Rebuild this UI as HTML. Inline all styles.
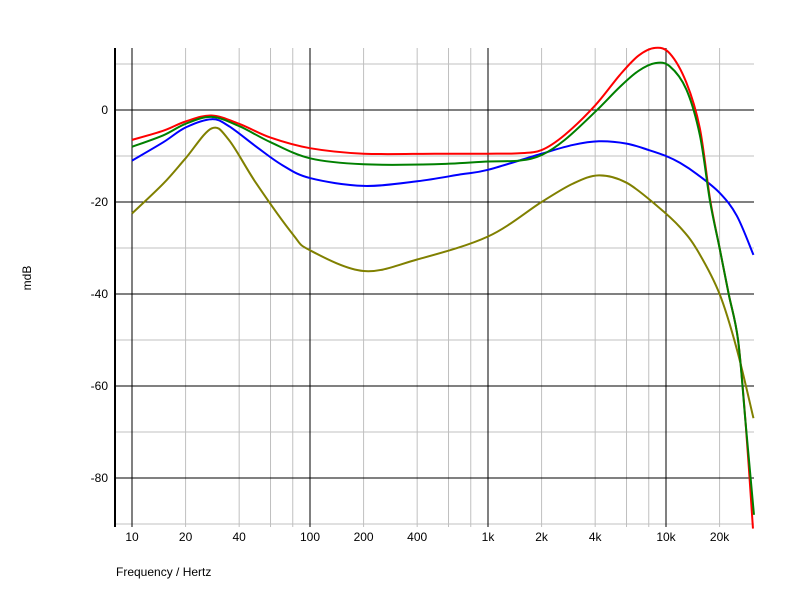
<!DOCTYPE html>
<html><head><meta charset="utf-8"><style>
body{margin:0;background:#fff;}
svg{display:block;font-family:"Liberation Sans",sans-serif;font-size:12px;}
</style></head><body>
<svg id="c" width="796" height="611"></svg>
<script>
const redF=[10,15,20,28,40,60,100,200,500,1000,1500,2000,2700,4000,5500,7000,8700,10500,13000,15500,17700,20000,22500,25400,28000,30800];
const redV=[-6.5,-4.5,-2.5,-1.2,-3,-6,-8.3,-9.5,-9.5,-9.5,-9.4,-8.7,-5.4,1,7.6,11.8,13.5,12.3,6,-4,-19.5,-30,-40,-50,-68,-91];
const greenF=[10,15,20,28,40,60,100,200,500,1000,1500,2000,2700,4000,5500,7000,8700,10500,13000,15500,17700,20000,22500,25400,28000,31200];
const greenV=[-8,-5.5,-3,-1.5,-3.5,-7,-10.5,-11.8,-11.8,-11.2,-11,-9.8,-6.5,-0.4,5,8.5,10.2,9.5,4.5,-5.5,-20,-30,-40,-50,-68,-88];
const blueF=[10,15,20,28,35,50,70,100,200,400,700,1000,2000,3000,4200,6000,8000,10000,12000,15000,20000,25000,31000];
const blueV=[-11,-7,-3.8,-2,-3.5,-8,-12,-14.8,-16.5,-15.5,-14,-13,-9.5,-7.6,-6.8,-7.3,-8.7,-10,-11.5,-14,-18,-23,-31.5];
const oliveF=[10,15,20,28,35,50,80,100,200,400,1000,2000,3000,4200,6000,9000,12000,15000,20000,25000,31000];
const oliveV=[-22.5,-16,-10.5,-4,-6.5,-16,-27,-30.5,-35,-32.5,-27.5,-20,-16,-14.2,-15.8,-21,-25.5,-30.5,-40,-52,-67];
const xTicks=[10,20,40,100,200,400,1000,2000,4000,10000,20000];
const xTickLabels=["10","20","40","100","200","400","1k","2k","4k","10k","20k"];
const yTicks=[0,-20,-40,-60,-80];

const NS="http://www.w3.org/2000/svg",svg=document.getElementById('c');
const L=115,R=754,T=48,B=527;
const X=f=>132+178*Math.log10(f/10);
const Y=v=>110-4.6*v;
function el(t,a,p){const e=document.createElementNS(NS,t);for(const k in a)e.setAttribute(k,a[k]);(p||svg).appendChild(e);return e;}
const grid=el('g',{});


for(let d=10;d<=10000;d*=10)for(let m=2;m<=8;m+=2){const f=d*m;if(X(f)>R)continue;
 const l=el('line',{x1:X(f),x2:X(f),y1:T,y2:B,stroke:'#c0c0c0'},grid);
 
 }
for(let v=10;v>=-90;v-=20){const l=el('line',{x1:L,x2:R,y1:Y(v),y2:Y(v),stroke:'#c0c0c0'},grid);
 
 }
for(let f=10;f<=10000;f*=10){const l=el('line',{x1:X(f),x2:X(f),y1:T,y2:B,stroke:'#000'},grid);
 
 }
yTicks.forEach(v=>{const l=el('line',{x1:L,x2:R,y1:Y(v),y2:Y(v),stroke:'#000'},grid);
 
 
 const t=el('text',{x:108,y:Y(v)+4,'text-anchor':'end'});t.textContent=v;
 
 });
xTicks.forEach((f,i)=>{const t=el('text',{x:X(f),y:541,'text-anchor':'middle'});t.textContent=xTickLabels[i];
 
 });
const ax=el('line',{x1:L,x2:L,y1:T,y2:B,stroke:'#000','stroke-width':2});


const yt=el('text',{x:31,y:278,'text-anchor':'middle',transform:'rotate(-90 31 278)'});yt.textContent='mdB';


const xt=el('text',{x:116,y:576});xt.textContent='Frequency / Hertz';


function curve(F,V,col,name){
 const p=F.map((f,i)=>[X(f),Y(V[i])]);
 let d='M'+p[0][0]+','+p[0][1];
 for(let i=0;i<p.length-1;i++){const p0=p[Math.max(i-1,0)],p1=p[i],p2=p[i+1],p3=p[Math.min(i+2,p.length-1)];
  d+=` C${p1[0]+(p2[0]-p0[0])/6},${p1[1]+(p2[1]-p0[1])/6} ${p2[0]-(p3[0]-p1[0])/6},${p2[1]-(p3[1]-p1[1])/6} ${p2[0]},${p2[1]}`;}
 const e=el('path',{d:d,fill:'none',stroke:col,'stroke-width':2});
 
 
}
curve(oliveF,oliveV,'#808000','olive-series-line');
curve(blueF,blueV,'#0000ff','blue-series-line');
curve(redF,redV,'#ff0000','red-series-line');
curve(greenF,greenV,'#008000','green-series-line');
</script>
</body></html>
